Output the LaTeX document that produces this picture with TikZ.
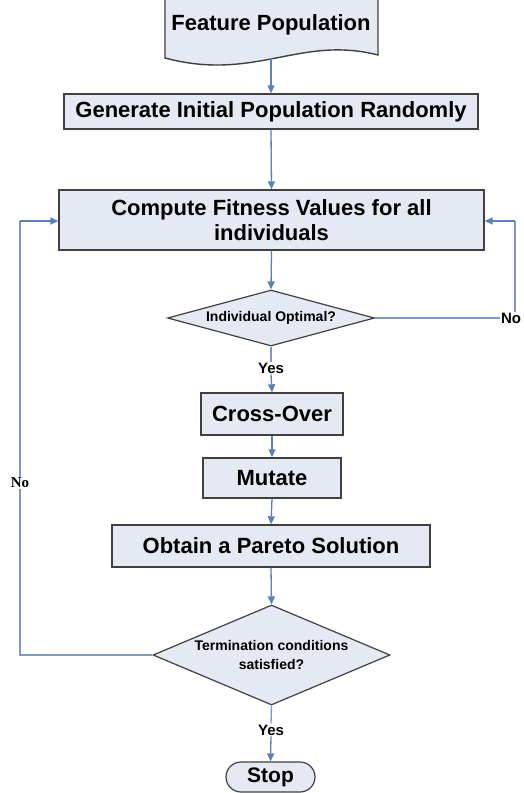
\documentclass[tikz,border=0pt]{standalone}
\usepackage{fontspec}
\setmainfont{Liberation Sans}
\newfontfamily\serifbold{Liberation Serif}
\usetikzlibrary{shapes.geometric,shapes.misc,arrows.meta}
\definecolor{boxfill}{HTML}{E4E9F4}
\definecolor{boxline}{HTML}{404040}
\definecolor{flow}{HTML}{5B80B8}
\definecolor{flowline}{HTML}{7E98C2}
\tikzset{
  x=1pt, y=-1pt,
  procbox/.style={draw=boxline, line width=1.4pt, fill=boxfill, rectangle,
    inner sep=0pt, font=\fontsize{22}{25}\selectfont\bfseries, align=center},
  decision/.style={draw=boxline, line width=1.2pt, fill=boxfill, diamond,
    inner sep=0pt, font=\fontsize{14}{19}\selectfont\bfseries, align=center},
  terminal/.style={draw=boxline, line width=1.2pt, fill=boxfill, rounded rectangle,
    inner sep=0pt, font=\fontsize{21}{24}\selectfont\bfseries},
  answer/.style={font=\fontsize{15}{17}\selectfont\bfseries, fill=white, inner sep=1pt},
  flowarrow/.style={draw=flow, line width=1.3pt, -{Triangle[length=8pt,width=7pt]}},
  flowlink/.style={draw=flowline, line width=1.3pt},
}
\begin{document}
\begin{tikzpicture}
\useasboundingbox (0,0) rectangle (523,793);
\fill[white] (0,0) rectangle (523,793);

% document shape holding the input population
\draw[boxline, line width=1.4pt, fill=boxfill]
  (165,-2) -- (165,58) .. controls (255,82) and (300,35) .. (378,55) -- (378,-2);
\node[font=\fontsize{22}{25}\selectfont\bfseries] (feat) at (271,25) {Feature Population};
\coordinate (featbot) at (271,58);

% process steps
\node[procbox, minimum width=414, minimum height=35] (gen) at (271,111.5)
  {Generate Initial Population Randomly};
\node[procbox, minimum width=425, minimum height=60] (comp) at (271.5,220)
  {Compute Fitness Values for all\\individuals};
\node[decision, minimum width=207, minimum height=56, aspect=3.7] (opt) at (271,318)
  {Individual Optimal?};
\node[answer] (yes1) at (271,368) {Yes};
\node[procbox, minimum width=142, minimum height=42] (cross) at (272,414) {Cross-Over};
\node[procbox, minimum width=138, minimum height=40] (mut) at (272,478) {Mutate};
\node[procbox, minimum width=318, minimum height=42] (obt) at (271,546)
  {Obtain a Pareto Solution};
\node[decision, minimum width=237, minimum height=100, aspect=2.37] (term) at (271.5,655)
  {Termination conditions\\satisfied?};
\node[answer] (yes2) at (271,730) {Yes};
\node[terminal, minimum width=89, minimum height=30] (stop) at (270.5,777) {Stop};

% labels on the loop-back lines
\node[answer] (noright) at (511,318) {No};
\node[answer, font=\fontsize{15}{17}\selectfont\serifbold\bfseries] (noleft) at (20,483) {No};

% main flow
\draw[flowarrow] (featbot) -- (gen.north);
\draw[flowarrow] (gen.south) -- (comp.north);
\draw[flowarrow] (comp.south) -- (opt.north);
\draw[flowlink] (opt.south) -- (yes1.north);
\draw[flowarrow] (yes1.south) -- (cross.north);
\draw[flowarrow] (cross.south) -- (mut.north);
\draw[flowarrow] (mut.south) -- (obt.north);
\draw[flowarrow] (obt.south) -- (term.north);
\draw[flowlink] (term.south) -- (yes2.north);
\draw[flowarrow] (yes2.south) -- (stop.north);

% loop back when the individual is not optimal
\coordinate (rcorner) at (515,221);
\draw[flowlink] (opt.east) -- (noright.west);
\draw[flowlink] (noright.north -| rcorner) -- (rcorner);
\draw[flowarrow] (rcorner) -- (comp.east |- rcorner);

% loop back while termination is not reached
\coordinate (lbottom) at (20,655);
\coordinate (ltop) at (20,221);
\draw[flowlink] (term.west) -- (lbottom) -- (noleft.south);
\draw[flowlink] (noleft.north) -- (ltop);
\draw[flowarrow] (ltop) -- (comp.west |- ltop);
\end{tikzpicture}
\end{document}
